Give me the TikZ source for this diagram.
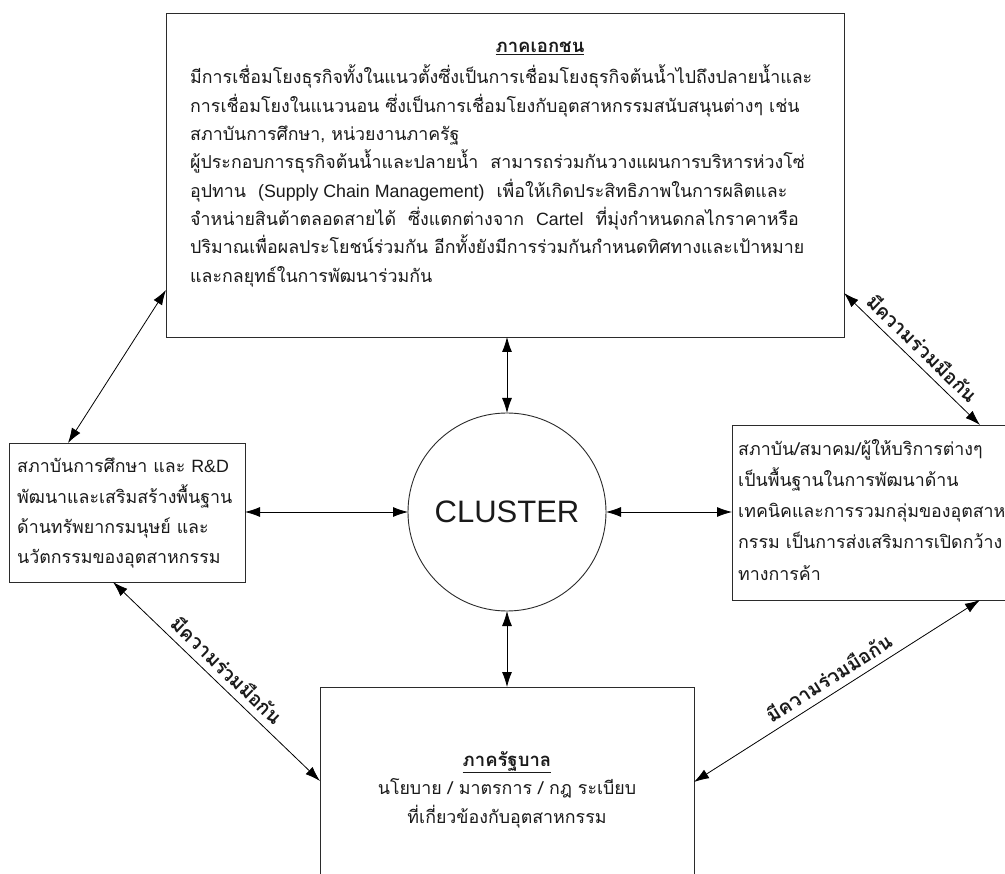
\documentclass[tikz,border=0pt]{standalone}
\usepackage{fontspec}
\usetikzlibrary{arrows.meta}
\newfontfamily\thaifont[Script=Thai]{Loma}
\newfontfamily\latinfont{Liberation Sans}
\definecolor{ink}{HTML}{1A1A1A}
\definecolor{frame}{HTML}{2B2B2B}
\tikzset{
  panel/.style={draw=frame, line width=0.9pt, fill=white, inner sep=0pt, outer sep=0pt},
  hub/.style={circle, draw=frame, line width=0.9pt, fill=white, inner sep=0pt, outer sep=0pt, minimum size=198pt},
  bodytext/.style={font=\thaifont\fontsize{17.8}{20}\selectfont, text=ink, inner sep=0pt, anchor=base west},
  centretext/.style={font=\thaifont\fontsize{17.8}{20}\selectfont, text=ink, inner sep=0pt, anchor=base},
  headtext/.style={font=\thaifont\bfseries\fontsize{18.5}{20}\selectfont, text=ink, inner sep=0pt, anchor=base},
  linktext/.style={font=\thaifont\bfseries\fontsize{19.5}{22}\selectfont, text=ink, inner sep=0pt},
  link/.style={line width=0.8pt, draw=black, {Latex[length=15pt,width=10pt]}-{Latex[length=15pt,width=10pt]}},
}
\begin{document}
\begin{tikzpicture}[x=1pt,y=-1pt]
\path[use as bounding box] (0,0) rectangle (1005,874);
\clip (0,0) rectangle (1005,874);

% boxes
\node[panel, minimum width=678pt, minimum height=324pt] (top) at (505,175) {};
\node[panel, minimum width=236pt, minimum height=139pt] (left) at (127,512.5) {};
\node[panel, minimum width=288pt, minimum height=175pt] (right) at (876,512.5) {};
\node[panel, minimum width=374pt, minimum height=213pt] (bottom) at (507,793.5) {};
\node[hub] (cl) at (507,512) {};
\node[font=\latinfont\fontsize{31}{36}\selectfont, text=ink, inner sep=0pt] (cltext) at (cl.center) {CLUSTER};

% private sector
\node[headtext] (th) at (540,53) {\underline{ภาคเอกชน}};
\node[bodytext] (t1) at (190,84) {มีการเชื่อมโยงธุรกิจทั้งในแนวตั้งซึ่งเป็นการเชื่อมโยงธุรกิจต้นน้ำไปถึงปลายน้ำและ};
\node[bodytext] (t2) at (190,113) {การเชื่อมโยงในแนวนอน ซึ่งเป็นการเชื่อมโยงกับอุตสาหกรรมสนับสนุนต่างๆ เช่น};
\node[bodytext] (t3) at (190,141) {สภาบันการศึกษา, หน่วยงานภาครัฐ};
\node[bodytext] (t4) at (190,169) {ผู้ประกอบการธุรกิจต้นน้ำและปลายน้ำ\ \ สามารถร่วมกันวางแผนการบริหารห่วงโซ่};
\node[bodytext] (t5) at (190,198) {อุปทาน\ \ {\latinfont (Supply Chain Management)}\ \ เพื่อให้เกิดประสิทธิภาพในการผลิตและ};
\node[bodytext] (t6) at (190,226) {จำหน่ายสินต้าตลอดสายได้\ \ ซึ่งแตกต่างจาก\ \ {\latinfont Cartel}\ \ ที่มุ่งกำหนดกลไกราคาหรือ};
\node[bodytext] (t7) at (190,254) {ปริมาณเพื่อผลประโยชน์ร่วมกัน อีกทั้งยังมีการร่วมกันกำหนดทิศทางและเป้าหมาย};
\node[bodytext] (t8) at (190,283) {และกลยุทธ์ในการพัฒนาร่วมกัน};

% education and R&D
\node[bodytext] (l1) at (17,473) {สภาบันการศึกษา และ {\latinfont R\&D}};
\node[bodytext] (l2) at (17,504) {พัฒนาและเสริมสร้างพื้นฐาน};
\node[bodytext] (l3) at (17,534) {ด้านทรัพยากรมนุษย์ และ};
\node[bodytext] (l4) at (17,564) {นวัตกรรมของอุตสาหกรรม};

% institutions and associations
\node[bodytext] (r1) at (738,456) {สภาบัน/สมาคม/ผู้ให้บริการต่างๆ};
\node[bodytext] (r2) at (738,487) {เป็นพื้นฐานในการพัฒนาด้าน};
\node[bodytext] (r3) at (738,518) {เทคนิคและการรวมกลุ่มของอุตสาห};
\node[bodytext] (r4) at (738,549) {กรรม เป็นการส่งเสริมการเปิดกว้าง};
\node[bodytext] (r5) at (738,580) {ทางการค้า};

% government
\node[headtext] (bh) at (507,766) {\underline{ภาครัฐบาล}};
\node[centretext] (b1) at (507,794) {นโยบาย / มาตรการ / กฎ ระเบียบ};
\node[centretext] (b2) at (507,823) {ที่เกี่ยวข้องกับอุตสาหกรรม};

% links to the hub
\draw[link] (cl.north |- top.south) -- (cl.north);
\draw[link] (left.east |- cl.west) -- (cl.west);
\draw[link] (cl.east) -- (right.west |- cl.east);
\draw[link] (cl.south) -- (cl.south |- bottom.north);

% links between the sectors
\draw[link] (top.west |- 0,290) -- (left.north -| 68,0);
\draw[link] (top.east |- 0,293) -- node[linktext, sloped, above=7pt] (c1) {มีความร่วมมือกัน} (right.north -| 980,0);
\draw[link] (left.south -| 113,0) -- node[linktext, sloped, above=7pt] (c2) {มีความร่วมมือกัน} (bottom.west |- 0,781);
\draw[link] (right.south -| 980,0) -- node[linktext, sloped, above=7pt] (c3) {มีความร่วมมือกัน} (bottom.east |- 0,782);
\end{tikzpicture}
\end{document}
